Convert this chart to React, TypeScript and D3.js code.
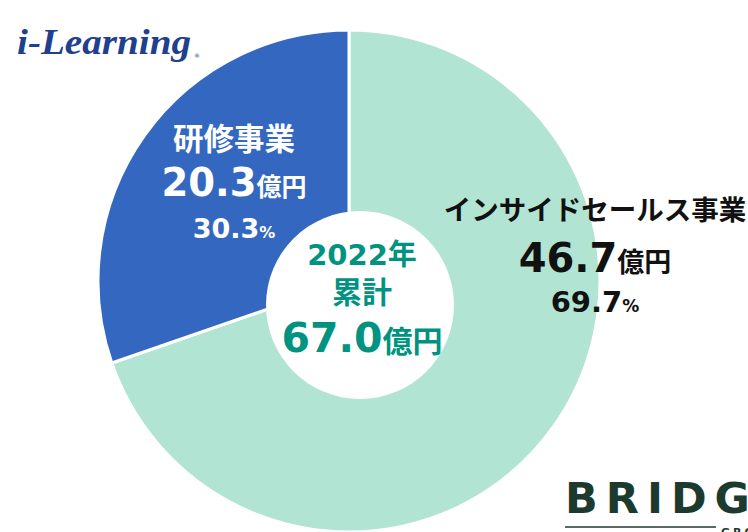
import React from "react";
import * as d3 from "d3";

const segments = ["インサイドセールス事業", "研修事業"];
const values = [46.7, 20.3];
const shares = ["69.7", "30.3"];
const unit = "億円";
const totalLabel = ["2022年", "累計"];
const totalValue = "67.0";

const W = 748;
const H = 532;
const cx = 349;
const cy = 281;
const R = 251;
const colors = ["#B1E4D2", "#3468C0"];
const teal = "#00937F";
const FONT = "'DejaVu Sans', 'Noto Sans CJK JP', sans-serif";
const CJK = "'Noto Sans CJK JP', sans-serif";

export default function App() {
  const pie = d3.pie<number>().sort(null).startAngle(0).endAngle(2 * Math.PI);
  const arcs = pie(values);
  const arc = d3.arc<d3.PieArcDatum<number>>().innerRadius(0).outerRadius(R);

  const labelPos = [
    { x: 595, name: 220, val: 272, pct: 312, fill: "#111", nameSize: 27.5, valSize: 40, unitSize: 27, pctSize: 29, pctUnit: 17 },
    { x: 234, name: 150, val: 196, pct: 238, fill: "#ffffff", nameSize: 30.5, valSize: 38.5, unitSize: 25, pctSize: 27, pctUnit: 16 },
  ];

  return (
    <svg width={W} height={H} style={{ position: "absolute", left: 0, top: 0, background: "#fff" }}>
      <g transform={`translate(${cx},${cy})`}>
        {arcs.map((a, i) => (
          <path key={i} d={arc(a) || ""} fill={colors[i]} stroke="#fff" strokeWidth={3} />
        ))}
      </g>
      <circle cx={360} cy={305} r={94} fill="#fff" />

      {arcs.map((a, i) => {
        const p = labelPos[i];
        return (
          <g key={"l" + i} fill={p.fill} fontWeight="bold" textAnchor="middle">
            <text x={p.x} y={p.name} fontFamily={CJK} fontSize={p.nameSize}>{segments[i]}</text>
            <text x={p.x} y={p.val} fontFamily={FONT}>
              <tspan fontSize={p.valSize}>{d3.format(".1f")(a.data)}</tspan>
              <tspan fontSize={p.unitSize} fontFamily={CJK}>{unit}</tspan>
            </text>
            <text x={p.x} y={p.pct} fontFamily={FONT}>
              <tspan fontSize={p.pctSize}>{shares[i]}</tspan>
              <tspan fontSize={p.pctUnit}>%</tspan>
            </text>
          </g>
        );
      })}

      <g fill={teal} fontWeight="bold" textAnchor="middle">
        <text x={362} y={265} fontFamily={FONT}>
          <tspan fontSize={29}>{totalLabel[0].slice(0, 4)}</tspan>
          <tspan fontSize={29} fontFamily={CJK}>{totalLabel[0].slice(4)}</tspan>
        </text>
        <text x={362} y={303} fontFamily={CJK} fontSize={30}>{totalLabel[1]}</text>
        <text x={362} y={352} fontFamily={FONT}>
          <tspan fontSize={41}>{totalValue}</tspan>
          <tspan fontSize={30} fontFamily={CJK}>{unit}</tspan>
        </text>
      </g>

      <text x={17} y={54} fontFamily="'Liberation Serif', serif" fontStyle="italic" fontWeight="bold"
        fontSize={36} fill="#1F3F8F" textLength={174} lengthAdjust="spacingAndGlyphs">i-Learning</text>
      <text x={194} y={58} fontFamily="'DejaVu Sans', sans-serif" fontSize={6} fill="#1F3F8F">®</text>

      <text x={565} y={513} fontFamily="'DejaVu Sans', sans-serif" fontWeight="bold" fontSize={43}
        fill="#1D3A2F" letterSpacing={8}>BRIDGE</text>
      <line x1={565} x2={716} y1={527} y2={527} stroke="#1D3A2F" strokeWidth={1.5} />
      <text x={721} y={536} fontFamily="'DejaVu Sans', sans-serif" fontWeight="bold" fontSize={11}
        fill="#1D3A2F" letterSpacing={3}>GROUP</text>
    </svg>
  );
}
